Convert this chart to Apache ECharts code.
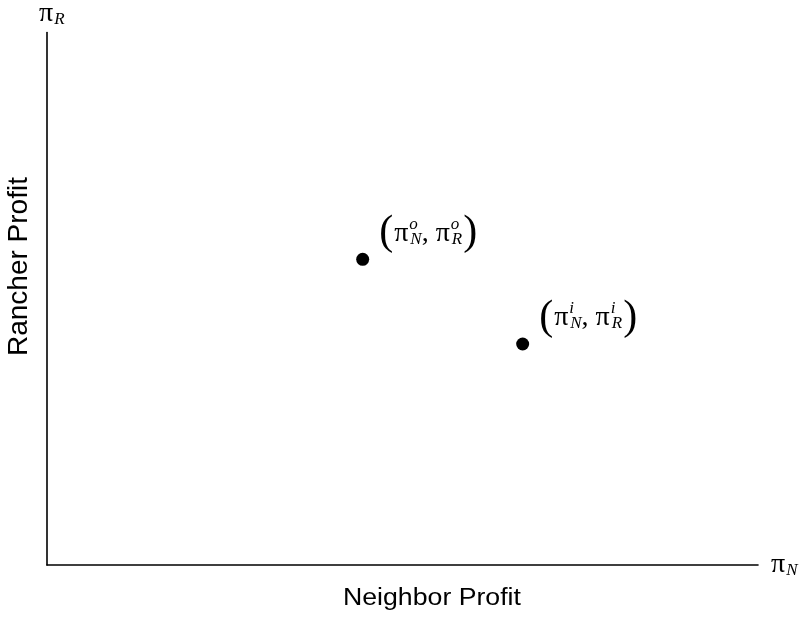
<!DOCTYPE html>
<html>
<head>
<meta charset="utf-8">
<script src="https://cdn.jsdelivr.net/npm/echarts@6/dist/echarts.min.js"></script>
<style>
  html, body { margin: 0; padding: 0; background: #fff; }
  #chart { width: 804px; height: 621px; }
</style>
</head>
<body>
<div id="chart"></div>
<script>
// points (arbitrary units, 0..100 on both axes)
let pointNames = ["o", "i"];
let neighborProfit = [44.4, 66.9];
let rancherProfit = [57.4, 41.5];

let serif = "'Liberation Serif', 'DejaVu Serif', serif";
let sans = "'Liberation Sans', Arial, sans-serif";

let chart = echarts.init(document.getElementById("chart"));

// rich text for (π_N^x, π_R^x)
let rich = {
  lp: { fontFamily: serif, fontSize: 42, color: "#000", padding: [0, 1, 0, 0] },
  rp: { fontFamily: serif, fontSize: 42, color: "#000", padding: [0, 0, 0, 1] },
  pi: { fontFamily: serif, fontSize: 28, color: "#000" },
  sup: { fontFamily: serif, fontSize: 17, fontStyle: "italic", color: "#000", width: 0, padding: [0, 0, 18, 1] },
  sub: { fontFamily: serif, fontSize: 17, fontStyle: "italic", color: "#000", padding: [12, 0, 0, 1] }
};

let data = [];
for (let i = 0; i < pointNames.length; i++) {
  data.push({ name: pointNames[i], value: [neighborProfit[i], rancherProfit[i]] });
}

let option = {
  animation: false,
  backgroundColor: "#fff",
  grid: { left: 47, right: 46, top: 32, bottom: 56 },
  xAxis: {
    type: "value",
    min: 0,
    max: 100,
    name: "{pi|π}{sub|N}",
    nameLocation: "end",
    nameGap: 13,
    nameTextStyle: { rich: rich, verticalAlign: "middle" },
    axisLine: { lineStyle: { color: "#000", width: 1.6 } },
    axisTick: { show: false },
    axisLabel: { show: false },
    splitLine: { show: false }
  },
  yAxis: {
    type: "value",
    min: 0,
    max: 100,
    name: "{pi|π}{sub|R}",
    nameLocation: "end",
    nameGap: 4,
    nameTextStyle: { rich: rich, align: "left", padding: [0, 0, 0, -8] },
    axisLine: { show: true, lineStyle: { color: "#000", width: 1.6 } },
    axisTick: { show: false },
    axisLabel: { show: false },
    splitLine: { show: false }
  },
  graphic: [
    {
      type: "text",
      x: 343,
      y: 587,
      scaleX: 1.16,
      style: { text: "Neighbor Profit", fontFamily: sans, fontSize: 23, fill: "#000" }
    },
    {
      type: "text",
      x: 5,
      y: 356,
      rotation: Math.PI / 2,
      style: { text: "Rancher Profit", fontFamily: sans, fontSize: 28, fill: "#000" }
    }
  ],
  series: [
    {
      type: "scatter",
      symbol: "circle",
      symbolSize: 13,
      itemStyle: { color: "#000", opacity: 1 },
      data: data,
      label: {
        show: true,
        position: "right",
        offset: [5, -26],
        color: "#000",
        formatter: function(p) {
          let s = p.name;
          return "{lp|(}{pi|π}{sup|" + s + "}{sub|N}{pi|, π}{sup|" + s + "}{sub|R}{rp|)}";
        },
        rich: rich
      }
    }
  ]
};

chart.setOption(option);
</script>
</body>
</html>
